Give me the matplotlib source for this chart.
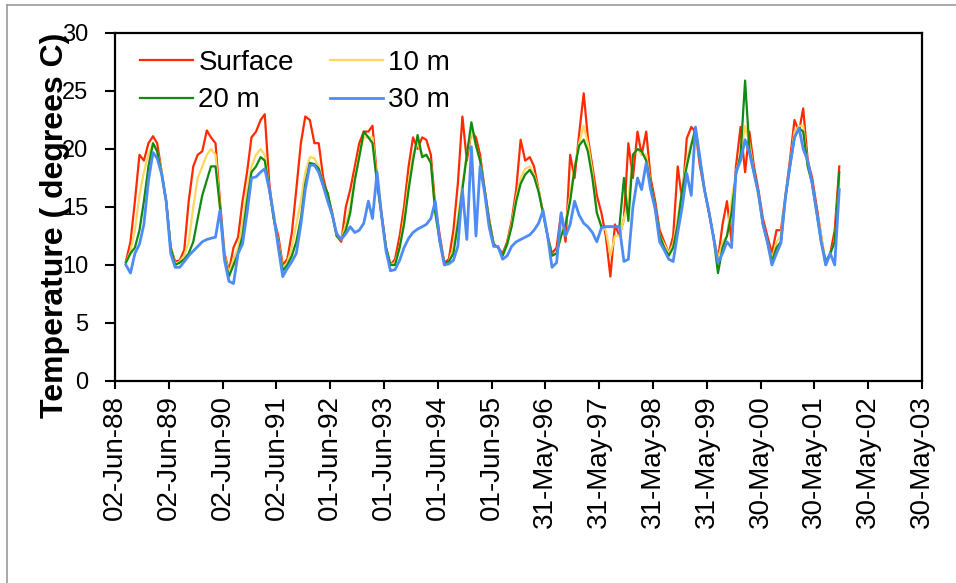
import matplotlib
matplotlib.use("Agg")
import matplotlib.pyplot as plt
import matplotlib.dates as mdates
from matplotlib.lines import Line2D
import numpy as np
import pandas as pd

plt.rcParams['font.family'] = ['Liberation Sans', 'DejaVu Sans']

# monthly readings, Aug 1988 .. Nov 2001
dates = pd.date_range('1988-08-01', periods=160, freq='MS') + pd.Timedelta(days=14)

surface = [
    10.3, 12.0, 15.5, 19.5, 19.0, 20.5, 21.1, 20.5, 18.0, 15.5, 11.5, 10.3,
    10.4, 11.3, 15.5, 18.5, 19.5, 19.8, 21.6, 21.0, 20.5, 15.5, 11.0, 9.5,
    11.5, 12.4, 15.5, 18.0, 21.0, 21.5, 22.5, 23.0, 17.0, 14.0, 12.5, 10.0,
    10.5, 12.8, 16.5, 20.5, 22.8, 22.5, 20.5, 20.5, 17.5, 16.0, 14.5, 12.5,
    12.0, 15.0, 16.5, 18.5, 20.5, 21.5, 21.5, 22.0, 17.5, 14.5, 11.5, 10.0,
    10.5, 12.5, 15.0, 18.5, 21.0, 20.0, 21.0, 20.8, 19.5, 15.0, 12.5, 10.2,
    10.5, 13.0, 17.0, 22.8, 19.0, 21.5, 21.0, 19.5, 16.5, 14.0, 11.8, 11.5,
    11.0, 12.0, 13.8, 16.5, 20.8, 19.0, 19.3, 18.5, 16.5, 14.5, 12.5, 11.0,
    11.5, 14.5, 12.0, 19.5, 17.5, 21.3, 24.8, 21.0, 18.5, 16.0, 14.5, 12.5,
    9.0, 13.5, 12.5, 14.0, 20.5, 17.5, 21.5, 19.5, 21.5, 17.5, 15.5, 13.0,
    12.0, 11.0, 12.5, 18.5, 15.5, 20.9, 21.9, 21.5, 18.5, 16.5, 14.5, 12.5,
    10.5, 13.5, 15.5, 12.0, 18.5, 21.9, 18.0, 21.5, 18.5, 16.5, 14.0, 12.5,
    11.0, 13.0, 13.0, 16.0, 19.0, 22.5, 21.5, 23.5, 19.0, 17.5, 15.0, 12.5,
    10.0, 11.0, 13.0, 18.5,
]
m10 = [
    10.2, 11.2, 13.0, 16.0, 18.0, 19.5, 20.5, 19.8, 18.0, 15.5, 11.5, 10.1,
    10.3, 10.8, 12.0, 15.0, 17.5, 18.5, 19.5, 20.0, 19.5, 15.0, 10.8, 9.3,
    10.5, 11.5, 13.5, 16.5, 18.5, 19.5, 20.0, 19.5, 16.5, 14.0, 12.0, 9.7,
    10.2, 11.5, 13.5, 15.5, 18.0, 19.3, 19.2, 18.5, 17.0, 16.0, 14.3, 12.5,
    12.2, 13.5, 15.0, 17.5, 19.5, 21.0, 21.0, 21.0, 17.3, 14.3, 11.5, 10.0,
    10.2, 11.5, 14.0, 17.0, 19.5, 20.5, 19.5, 19.5, 18.8, 14.5, 12.0, 10.2,
    10.3, 11.5, 14.0, 17.0, 19.5, 21.5, 20.3, 19.0, 16.5, 13.8, 11.8, 11.5,
    10.8, 11.8, 13.5, 15.8, 17.5, 18.3, 18.5, 17.8, 16.5, 14.5, 12.5, 10.8,
    11.0, 13.0, 13.5, 16.0, 18.5, 20.5, 22.0, 20.5, 18.0, 14.5, 13.3, 13.0,
    10.8, 12.5, 12.5, 14.0, 15.5, 19.5, 20.0, 19.5, 19.5, 17.0, 15.0, 12.5,
    11.8, 11.0, 11.8, 14.0, 16.5, 19.0, 20.5, 21.5, 19.0, 16.5, 14.5, 12.5,
    10.5, 12.0, 12.5, 15.5, 18.0, 19.5, 22.0, 20.5, 18.0, 16.0, 13.5, 12.0,
    10.5, 12.0, 12.5, 16.0, 18.5, 21.5, 22.0, 22.0, 18.5, 17.0, 14.5, 12.5,
    10.2, 11.0, 12.0, 17.5,
]
m20 = [
    10.2, 11.0, 11.5, 13.0, 15.5, 18.5, 20.5, 19.8, 17.8, 15.5, 11.5, 10.0,
    10.2, 10.5, 11.0, 12.0, 14.0, 16.0, 17.3, 18.5, 18.5, 15.0, 10.6, 9.0,
    10.0, 11.0, 12.5, 15.5, 18.0, 18.5, 19.3, 19.0, 16.5, 14.0, 11.8, 9.5,
    10.0, 10.8, 12.0, 14.0, 17.0, 18.8, 18.7, 18.3, 17.0, 16.2, 14.3, 12.5,
    12.2, 13.0, 14.5, 17.3, 19.3, 21.5, 21.0, 20.5, 17.0, 14.3, 11.5, 10.0,
    10.0, 11.5, 13.5, 16.5, 19.0, 21.2, 19.3, 19.5, 18.8, 14.5, 12.0, 10.2,
    10.3, 11.0, 13.5, 16.5, 19.5, 22.3, 20.3, 19.0, 16.5, 13.8, 11.8, 11.5,
    10.8, 11.8, 13.3, 15.5, 17.0, 17.8, 18.2, 17.6, 16.3, 14.5, 12.5, 10.8,
    11.0, 12.5, 13.5, 15.5, 18.3, 20.3, 20.8, 19.8, 17.5, 14.5, 13.3, 13.3,
    13.3, 13.3, 13.3, 17.5, 13.8, 19.5, 20.0, 19.8, 19.0, 17.0, 15.0, 12.5,
    11.5, 10.8, 11.5, 13.5, 16.5, 18.5, 20.3, 21.8, 19.0, 16.5, 14.5, 12.5,
    9.3, 11.5, 12.5, 14.5, 17.8, 19.5, 25.9, 20.0, 18.0, 16.2, 13.5, 12.0,
    10.3, 11.5, 12.0, 15.8, 18.5, 21.0, 21.8, 21.5, 18.5, 17.0, 14.5, 12.0,
    10.3, 11.0, 12.0, 18.0,
]
m30 = [
    10.0, 9.3, 11.0, 11.8, 13.5, 17.3, 19.7, 19.2, 17.8, 15.5, 11.0, 9.8,
    9.8, 10.3, 10.8, 11.2, 11.6, 12.0, 12.2, 12.3, 12.4, 14.7, 10.4, 8.6,
    8.4, 11.0, 11.8, 14.5, 17.5, 17.6, 18.0, 18.3, 16.5, 14.3, 11.5, 9.0,
    9.7, 10.3, 11.0, 13.5, 16.5, 18.6, 18.6, 18.0, 16.8, 15.5, 14.3, 12.7,
    12.2, 12.7, 13.3, 12.8, 13.0, 13.6, 15.5, 14.0, 18.0, 14.3, 11.2, 9.5,
    9.6, 10.4, 11.5, 12.3, 12.8, 13.1, 13.3, 13.5, 14.0, 15.5, 12.0, 10.0,
    10.1, 10.4, 11.6, 16.5, 12.2, 20.2, 12.5, 18.5, 16.2, 13.3, 11.6, 11.6,
    10.5, 10.8, 11.6, 12.0, 12.2, 12.4, 12.6, 13.0, 13.6, 14.7, 12.5, 9.8,
    10.2, 14.5, 12.5, 13.5, 15.5, 14.3, 13.6, 13.3, 12.8, 12.0, 13.2, 13.3,
    13.3, 13.3, 13.3, 10.3, 10.5, 15.0, 17.5, 16.5, 18.8, 16.5, 14.8, 12.0,
    11.3, 10.5, 10.3, 12.8, 15.0, 17.9, 16.0, 21.9, 19.2, 16.5, 14.6, 12.4,
    10.2, 11.0, 12.0, 11.5, 18.0, 19.0, 20.8, 19.7, 17.9, 16.2, 13.5, 12.0,
    10.0, 11.0, 11.9, 15.9, 18.5, 21.0, 21.8, 20.0, 19.0, 17.0, 14.5, 12.0,
    10.0, 11.0, 10.0, 16.5,
]

labels = ['Surface', '10 m', '20 m', '30 m']
colors = ['#ff2a00', '#ffd75e', '#108a10', '#4d8cf5']

fig = plt.figure(figsize=(9.56, 5.83), dpi=100)
ax = fig.add_axes([0.1203, 0.3465, 0.8441, 0.5969])

lines = []
for vals, lab, col in zip([surface, m10, m20, m30], labels, colors):
    lw = 2.0 if lab == '30 m' else 1.6
    ln, = ax.plot(dates, vals, color=col, lw=lw, label=lab)
    lines.append(ln)

start = mdates.date2num(pd.Timestamp('1988-06-02'))
ticks = start + 365 * np.arange(16)
ax.set_xlim(ticks[0], ticks[-1])
ax.set_xticks(ticks)
ax.xaxis.set_major_formatter(mdates.DateFormatter('%d-%b-%y'))
ax.set_ylim(0, 30)
ax.set_yticks(range(0, 31, 5))

ax.tick_params(axis='x', direction='out', length=6, width=1.5, labelsize=20,
               labelrotation=90, pad=4)
ax.tick_params(axis='y', direction='out', length=7, width=1.5, labelsize=17, pad=12)
for s in ax.spines.values():
    s.set_linewidth(1.6)
    s.set_color('black')

fig.text(55 / 956, 1 - 225 / 583, 'Temperature ( degrees C)', rotation=90,
         ha='center', va='center', fontsize=23, fontweight='bold')

ax.legend([lines[0], lines[2], lines[1], lines[3]],
          [labels[0], labels[2], labels[1], labels[3]],
          ncol=2, loc='upper left', bbox_to_anchor=(0.031, 0.951),
          frameon=False, fontsize=20, handlelength=1.9, handletextpad=0.2,
          columnspacing=1.3, labelspacing=0.41, borderaxespad=0, borderpad=0)

# outer frame lines (top and left only)
fig.add_artist(Line2D([7 / 956, 1], [1 - 5 / 583, 1 - 5 / 583],
                      transform=fig.transFigure, color='#9a9a9a', lw=1.2))
fig.add_artist(Line2D([7 / 956, 7 / 956], [0, 1 - 5 / 583],
                      transform=fig.transFigure, color='#9a9a9a', lw=1.2))

fig.savefig('out.png', dpi=100)
